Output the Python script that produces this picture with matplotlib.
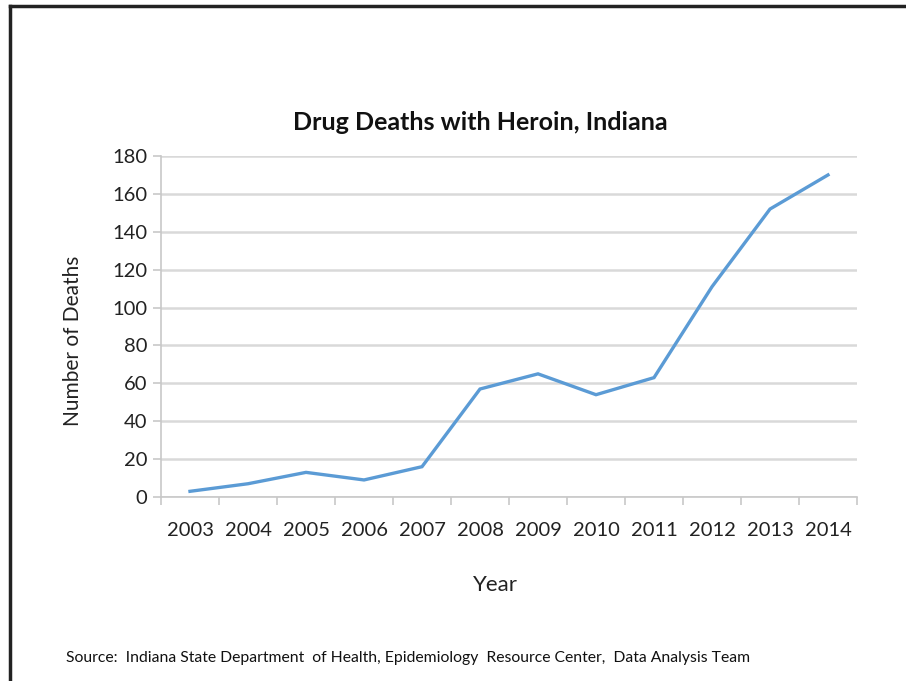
import matplotlib
matplotlib.use("Agg")
import matplotlib.pyplot as plt
from matplotlib.lines import Line2D

years = ["2003", "2004", "2005", "2006", "2007", "2008",
         "2009", "2010", "2011", "2012", "2013", "2014"]
deaths = [3, 7, 13, 9, 16, 57, 65, 54, 63, 111, 152, 170]
y_ticks = [0, 20, 40, 60, 80, 100, 120, 140, 160, 180]

plt.rcParams["font.family"] = ["Lato", "DejaVu Sans"]

W, H = 906, 681
fig = plt.figure(figsize=(W / 100, H / 100), dpi=100)
ax = fig.add_axes([161 / W, 1 - 497 / H, (857 - 161) / W, (497 - 156) / H])

x = list(range(len(years)))
ax.plot(x, deaths, color="#5B9BD5", lw=2.4, solid_joinstyle="miter")

ax.set_xlim(-0.5, len(years) - 0.5)
ax.set_ylim(0, 180)
ax.set_yticks(y_ticks)
ax.set_xticks(x)
ax.set_xticklabels(years)
ax.set_xticks([i - 0.5 for i in range(len(years) + 1)], minor=True)
ax.tick_params(axis="x", which="major", length=0, pad=18, labelsize=14.5, colors="#222222")
ax.tick_params(axis="x", which="minor", length=6, width=1.2, color="#c8c8c8")
ax.tick_params(axis="y", length=6, width=1.2, color="#c8c8c8", labelsize=14.5,
               labelcolor="#222222", pad=4)

ax.grid(axis="y", color="#d9d9d9", lw=1.8)
ax.set_axisbelow(True)
for s in ["top", "right"]:
    ax.spines[s].set_visible(False)
ax.spines["left"].set_color("#c8c8c8")
ax.spines["left"].set_linewidth(1.2)
ax.spines["bottom"].set_color("#c8c8c8")
ax.spines["bottom"].set_linewidth(1.2)

fig.text(480 / W, 1 - 123 / H, "Drug Deaths with Heroin, Indiana",
         ha="center", va="center", fontsize=18, fontweight="bold", color="#111111")
fig.text(495 / W, 1 - 585 / H, "Year", ha="center", va="center",
         fontsize=16, color="#222222")
fig.text(73 / W, 1 - 341 / H, "Number of Deaths", ha="center", va="center",
         rotation=90, fontsize=15, color="#222222")
fig.text(66 / W, 1 - 658 / H,
         "Source:  Indiana State Department  of Health, Epidemiology  Resource Center,  Data Analysis Team",
         ha="left", va="center", fontsize=11.3, color="#111111")

# page border (top and left only visible)
fig.add_artist(Line2D([10 / W, 10 / W], [0, 1 - 6 / H], color="#222222", lw=2.5))
fig.add_artist(Line2D([10 / W, 1], [1 - 6 / H, 1 - 6 / H], color="#222222", lw=2.5))

fig.savefig("out.png", dpi=100, facecolor="white")
